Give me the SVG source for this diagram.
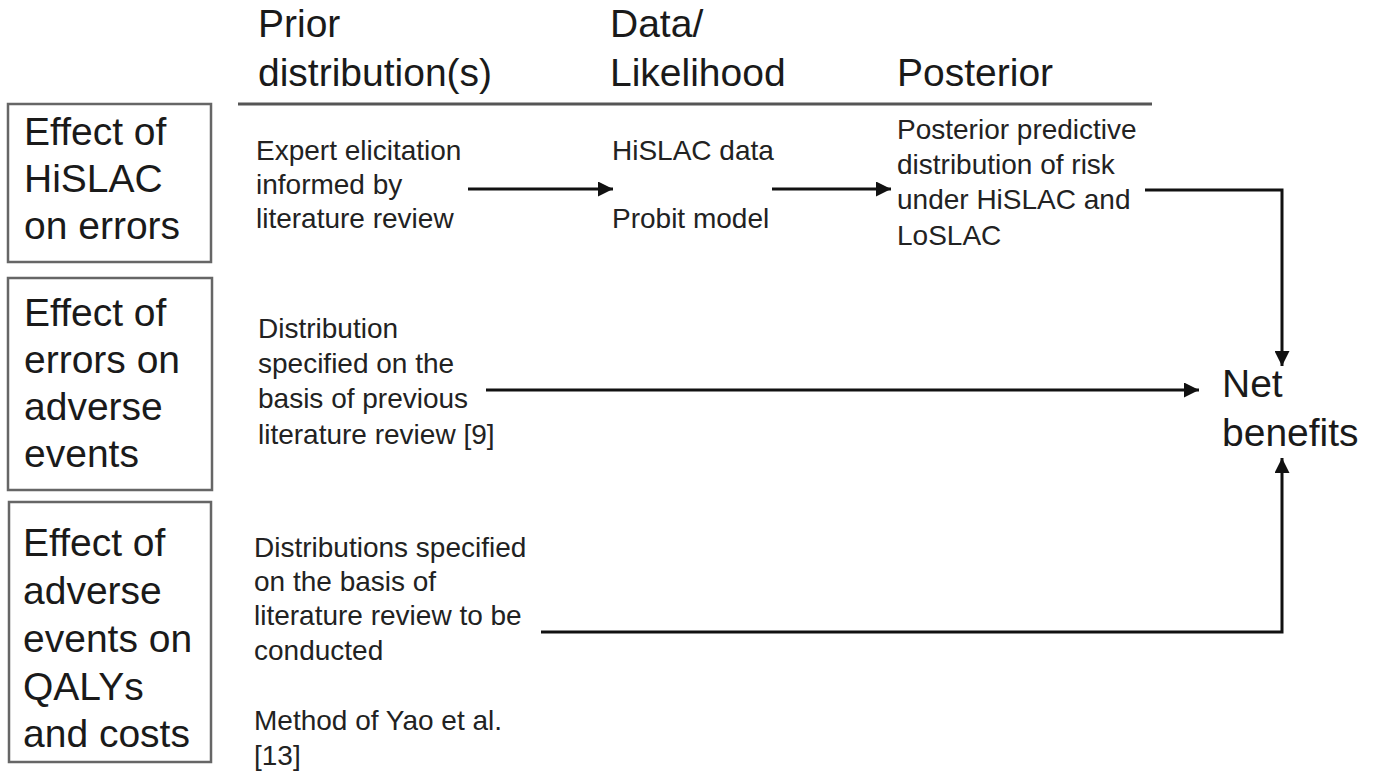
<svg xmlns="http://www.w3.org/2000/svg" width="1378" height="778" viewBox="0 0 1378 778">
<style>
.box{fill:#fff;stroke:#666;stroke-width:2.5}
.big{font-family:"Liberation Sans",Arial,sans-serif;font-size:39px;fill:#1a1a1a}
.sm{font-family:"Liberation Sans",Arial,sans-serif;font-size:28px;fill:#222}
.ln{fill:none;stroke:#111;stroke-width:3}
</style>
<defs>
<marker id="ah" viewBox="0 0 10 10" refX="10" refY="5" markerWidth="6" markerHeight="5" markerUnits="strokeWidth" orient="auto">
<path d="M0,0 L10,5 L0,10 z" fill="#111"/>
</marker>
</defs>
<rect width="1378" height="778" fill="#fff"/>
<g id="headers">
<text class="big" x="258" y="37">Prior</text>
<text class="big" x="258" y="86">distribution(s)</text>
<text class="big" x="610" y="37">Data/</text>
<text class="big" x="610" y="86">Likelihood</text>
<text class="big" x="897" y="86">Posterior</text>
<line x1="238" y1="104" x2="1152" y2="104" stroke="#555" stroke-width="3"/>
</g>
<g id="box1">
<rect class="box" x="8" y="104" width="203" height="158"/>
<text class="big" x="24" y="145">Effect of</text>
<text class="big" x="24" y="192">HiSLAC</text>
<text class="big" x="24" y="239">on errors</text>
</g>
<g id="box2">
<rect class="box" x="8" y="278" width="204" height="212"/>
<text class="big" x="24" y="326">Effect of</text>
<text class="big" x="24" y="373">errors on</text>
<text class="big" x="24" y="420">adverse</text>
<text class="big" x="24" y="467">events</text>
</g>
<g id="box3">
<rect class="box" x="9" y="502" width="202" height="260"/>
<text class="big" x="23" y="556">Effect of</text>
<text class="big" x="23" y="604">adverse</text>
<text class="big" x="23" y="652">events on</text>
<text class="big" x="23" y="700">QALYs</text>
<text class="big" x="23" y="747">and costs</text>
</g>
<g id="prior1">
<text class="sm" x="256" y="160">Expert elicitation</text>
<text class="sm" x="256" y="194">informed by</text>
<text class="sm" x="256" y="228">literature review</text>
</g>
<g id="data1">
<text class="sm" x="612" y="160">HiSLAC data</text>
<text class="sm" x="612" y="228">Probit model</text>
</g>
<g id="posterior1">
<text class="sm" x="897" y="139">Posterior predictive</text>
<text class="sm" x="897" y="174">distribution of risk</text>
<text class="sm" x="897" y="209">under HiSLAC and</text>
<text class="sm" x="897" y="245">LoSLAC</text>
</g>
<g id="prior2">
<text class="sm" x="258" y="338">Distribution</text>
<text class="sm" x="258" y="373">specified on the</text>
<text class="sm" x="258" y="408">basis of previous</text>
<text class="sm" x="258" y="444">literature review [9]</text>
</g>
<g id="prior3">
<text class="sm" x="254" y="557">Distributions specified</text>
<text class="sm" x="254" y="591">on the basis of</text>
<text class="sm" x="254" y="625">literature review to be</text>
<text class="sm" x="254" y="660">conducted</text>
<text class="sm" x="254" y="730">Method of Yao et al.</text>
<text class="sm" x="254" y="765">[13]</text>
</g>
<g id="netbenefits">
<text class="big" x="1222" y="397">Net</text>
<text class="big" x="1222" y="446">benefits</text>
</g>
<g id="connectors">
<line class="ln" x1="468" y1="189" x2="613" y2="189" marker-end="url(#ah)"/>
<line class="ln" x1="772" y1="189" x2="891" y2="189" marker-end="url(#ah)"/>
<polyline class="ln" points="1145,190 1282,190 1282,366" marker-end="url(#ah)"/>
<line class="ln" x1="486" y1="390" x2="1199" y2="390" marker-end="url(#ah)"/>
<polyline class="ln" points="541,632 1282,632 1282,458" marker-end="url(#ah)"/>
</g>
</svg>
